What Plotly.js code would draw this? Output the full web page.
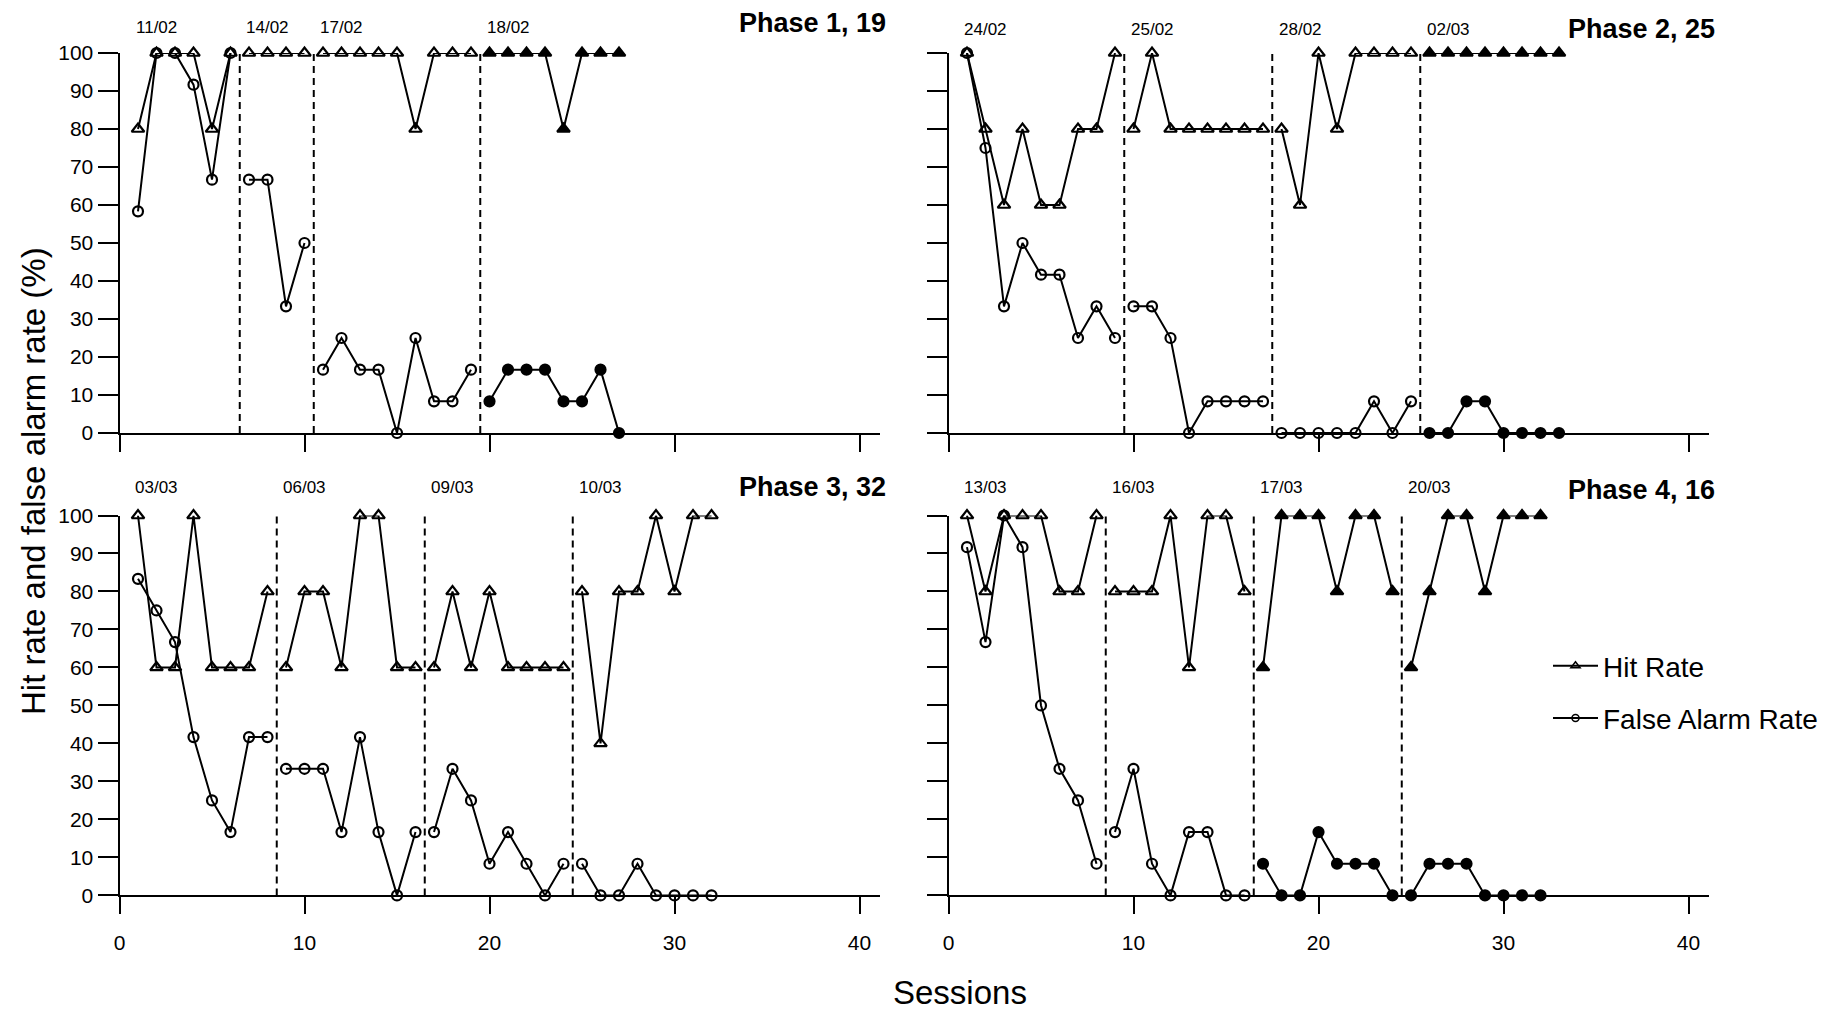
<!DOCTYPE html>
<html>
<head>
<meta charset="utf-8">
<script src="https://cdn.plot.ly/plotly-3.0.1.min.js"></script>
<style>html,body{margin:0;padding:0;background:#fff;}#chart{width:1840px;height:1016px;}</style>
</head>
<body>
<div id="chart"></div>
<script>
// ---------- DATA ----------
const phaseTitles = ['Phase 1, 19', 'Phase 2, 25', 'Phase 3, 32', 'Phase 4, 16'];

const phase1Sessions = [1,2,3,4,5,6,7,8,9,10,11,12,13,14,15,16,17,18,19,20,21,22,23,24,25,26,27];
const phase1Hit = [80,100,100,100,80,100, 100,100,100,100, 100,100,100,100,100,80,100,100,100, 100,100,100,100,80,100,100,100];
const phase1FA  = [58.33,100,100,91.67,66.67,100, 66.67,66.67,33.33,50, 16.67,25,16.67,16.67,0,25,8.33,8.33,16.67, 8.33,16.67,16.67,16.67,8.33,8.33,16.67,0];
const phase1Dates = ['11/02','14/02','17/02','18/02'];
const phase1BlockStart = [1,7,11,20];
const phase1BlockFilled = [false,false,false,true];

const phase2Sessions = [1,2,3,4,5,6,7,8,9,10,11,12,13,14,15,16,17,18,19,20,21,22,23,24,25,26,27,28,29,30,31,32,33];
const phase2Hit = [100,80,60,80,60,60,80,80,100, 80,100,80,80,80,80,80,80, 80,60,100,80,100,100,100,100, 100,100,100,100,100,100,100,100];
const phase2FA  = [100,75,33.33,50,41.67,41.67,25,33.33,25, 33.33,33.33,25,0,8.33,8.33,8.33,8.33, 0,0,0,0,0,8.33,0,8.33, 0,0,8.33,8.33,0,0,0,0];
const phase2Dates = ['24/02','25/02','28/02','02/03'];
const phase2BlockStart = [1,10,18,26];
const phase2BlockFilled = [false,false,false,true];

const phase3Sessions = [1,2,3,4,5,6,7,8,9,10,11,12,13,14,15,16,17,18,19,20,21,22,23,24,25,26,27,28,29,30,31,32];
const phase3Hit = [100,60,60,100,60,60,60,80, 60,80,80,60,100,100,60,60, 60,80,60,80,60,60,60,60, 80,40,80,80,100,80,100,100];
const phase3FA  = [83.33,75,66.67,41.67,25,16.67,41.67,41.67, 33.33,33.33,33.33,16.67,41.67,16.67,0,16.67, 16.67,33.33,25,8.33,16.67,8.33,0,8.33, 8.33,0,0,8.33,0,0,0,0];
const phase3Dates = ['03/03','06/03','09/03','10/03'];
const phase3BlockStart = [1,9,17,25];
const phase3BlockFilled = [false,false,false,false];

const phase4Sessions = [1,2,3,4,5,6,7,8,9,10,11,12,13,14,15,16,17,18,19,20,21,22,23,24,25,26,27,28,29,30,31,32];
const phase4Hit = [100,80,100,100,100,80,80,100, 80,80,80,100,60,100,100,80, 60,100,100,100,80,100,100,80, 60,80,100,100,80,100,100,100];
const phase4FA  = [91.67,66.67,100,91.67,50,33.33,25,8.33, 16.67,33.33,8.33,0,16.67,16.67,0,0, 8.33,0,0,16.67,8.33,8.33,8.33,0, 0,8.33,8.33,8.33,0,0,0,0];
const phase4Dates = ['13/03','16/03','17/03','20/03'];
const phase4BlockStart = [1,9,17,25];
const phase4BlockFilled = [false,false,true,true];

const xTicks = [0,10,20,30,40];
const yTicks = [0,10,20,30,40,50,60,70,80,90,100];
const seriesNames = ['Hit Rate', 'False Alarm Rate'];

// ---------- BUILD ----------
const FONT = 'Liberation Sans, Arial, Helvetica, sans-serif';
const phases = [
  {s: phase1Sessions, hit: phase1Hit, fa: phase1FA, dates: phase1Dates, start: phase1BlockStart, filled: phase1BlockFilled},
  {s: phase2Sessions, hit: phase2Hit, fa: phase2FA, dates: phase2Dates, start: phase2BlockStart, filled: phase2BlockFilled},
  {s: phase3Sessions, hit: phase3Hit, fa: phase3FA, dates: phase3Dates, start: phase3BlockStart, filled: phase3BlockFilled},
  {s: phase4Sessions, hit: phase4Hit, fa: phase4FA, dates: phase4Dates, start: phase4BlockStart, filled: phase4BlockFilled}
];

const W = 1840, H = 1016;
const xDomL = [119.5/W, 879.5/W];
const xDomR = [948.5/W, 1708.5/W];
const yDomT = [1-433/H, 1-53/H];
const yDomB = [1-895.4/H, 1-515.5/H];
const XR = [0, 41.08];

const traces = [];
const shapes = [];
const annotations = [];

// legend entries
traces.push({x:[null], y:[null], type:'scatter', mode:'lines+markers', name: seriesNames[0], legendgroup:'hit',
  line:{color:'#000', width:2}, marker:{symbol:'triangle-up-open', size:8, color:'#000', line:{color:'#000', width:1.5}}, xaxis:'x', yaxis:'y'});
traces.push({x:[null], y:[null], type:'scatter', mode:'lines+markers', name: seriesNames[1], legendgroup:'fa',
  line:{color:'#000', width:2}, marker:{symbol:'circle-open', size:7, color:'#000', line:{color:'#000', width:1.5}}, xaxis:'x', yaxis:'y'});

const dateY = [1.066, 1.062, 1.074, 1.074];
const titleY = [1.08, 1.062, 1.074, 1.066];

phases.forEach((ph, p) => {
  const ax = p === 0 ? '' : String(p+1);
  const xa = 'x' + ax, ya = 'y' + ax;
  const nb = ph.start.length;
  for (let b = 0; b < nb; b++) {
    const i0 = ph.s.indexOf(ph.start[b]);
    const i1 = b < nb-1 ? ph.s.indexOf(ph.start[b+1]) : ph.s.length;
    const xs = ph.s.slice(i0, i1);
    const filled = ph.filled[b];
    traces.push({
      x: xs, y: ph.fa.slice(i0, i1), type:'scatter', mode:'lines+markers', xaxis: xa, yaxis: ya,
      showlegend:false, legendgroup:'fa', cliponaxis:false, hoverinfo:'x+y',
      line:{color:'#000', width:2},
      marker:{symbol: filled ? 'circle' : 'circle-open', size:10, color:'#000', line:{color:'#000', width:2.2}}
    });
    traces.push({
      x: xs, y: ph.hit.slice(i0, i1), type:'scatter', mode:'lines+markers', xaxis: xa, yaxis: ya,
      showlegend:false, legendgroup:'hit', cliponaxis:false, hoverinfo:'x+y',
      line:{color:'#000', width:2},
      marker:{symbol: filled ? 'triangle-up' : 'triangle-up-open', size:11, color:'#000', line:{color:'#000', width:2.2}}
    });
    // date label
    annotations.push({xref: xa, yref: ya + ' domain', x: ph.start[b] + 1.0, y: dateY[p], text: ph.dates[b], showarrow:false,
      xanchor:'center', yanchor:'middle', font:{family:FONT, size:17, color:'#000'}});
    // dashed separator before this block
    if (b > 0) {
      const xb = ph.start[b] - 0.5;
      shapes.push({type:'line', xref: xa, yref: ya, x0: xb, x1: xb, y0: 0, y1: 100,
        line:{color:'#000', width:2, dash:'7px,5px'}, layer:'above'});
    }
  }
  annotations.push({xref: xa + ' domain', yref: ya + ' domain', x: 1.0116, y: titleY[p], text: '<b>' + phaseTitles[p] + '</b>', showarrow:false,
    xanchor:'right', yanchor:'middle', font:{family:FONT, size:27, color:'#000'}});
});

annotations.push({xref:'paper', yref:'paper', x: 33/W, y: 1-481/H, text:'Hit rate and false alarm rate (%)',
  textangle:-90, showarrow:false, xanchor:'center', yanchor:'middle', font:{family:FONT, size:33, color:'#000'}});
annotations.push({xref:'paper', yref:'paper', x: 960/W, y: 1-992/H, text:'Sessions',
  showarrow:false, xanchor:'center', yanchor:'middle', font:{family:FONT, size:33, color:'#000'}});

function xAxis(dom, anchor, labels) {
  return {domain: dom, anchor: anchor, range: XR, tickmode:'array', tickvals: xTicks, ticks:'outside', ticklen:17, tickwidth:2,
    tickcolor:'#000', showline:true, linewidth:2, linecolor:'#000', showgrid:false, zeroline:false, showticklabels: labels,
    ticklabelstandoff: 10, tickfont:{family:FONT, size:21, color:'#000'}, fixedrange:true};
}
function yAxis(dom, anchor, labels) {
  return {domain: dom, anchor: anchor, range:[0,100], tickmode:'array', tickvals: yTicks, ticks:'outside', ticklen:20, tickwidth:2,
    tickcolor:'#000', showline:true, linewidth:2, linecolor:'#000', showgrid:false, zeroline:false, showticklabels: labels,
    tickfont:{family:FONT, size:21, color:'#000'}, fixedrange:true};
}

const layout = {
  width: W, height: H, margin:{l:0, r:0, t:0, b:0}, paper_bgcolor:'#fff', plot_bgcolor:'#fff',
  font:{family:FONT, color:'#000'},
  xaxis: xAxis(xDomL, 'y', false), yaxis: yAxis(yDomT, 'x', true),
  xaxis2: xAxis(xDomR, 'y2', false), yaxis2: yAxis(yDomT, 'x2', false),
  xaxis3: xAxis(xDomL, 'y3', true), yaxis3: yAxis(yDomB, 'x3', true),
  xaxis4: xAxis(xDomR, 'y4', true), yaxis4: yAxis(yDomB, 'x4', false),
  shapes: shapes, annotations: annotations,
  showlegend: true,
  legend: {x: 1548/W, y: 1-692/H, xanchor:'left', yanchor:'middle', bgcolor:'rgba(0,0,0,0)', borderwidth:0,
    font:{family:FONT, size:28, color:'#000'}, tracegroupgap: 13, traceorder:'grouped', itemwidth: 45}
};

Plotly.newPlot('chart', traces, layout, {displayModeBar:false, staticPlot:true});
</script>
</body>
</html>
